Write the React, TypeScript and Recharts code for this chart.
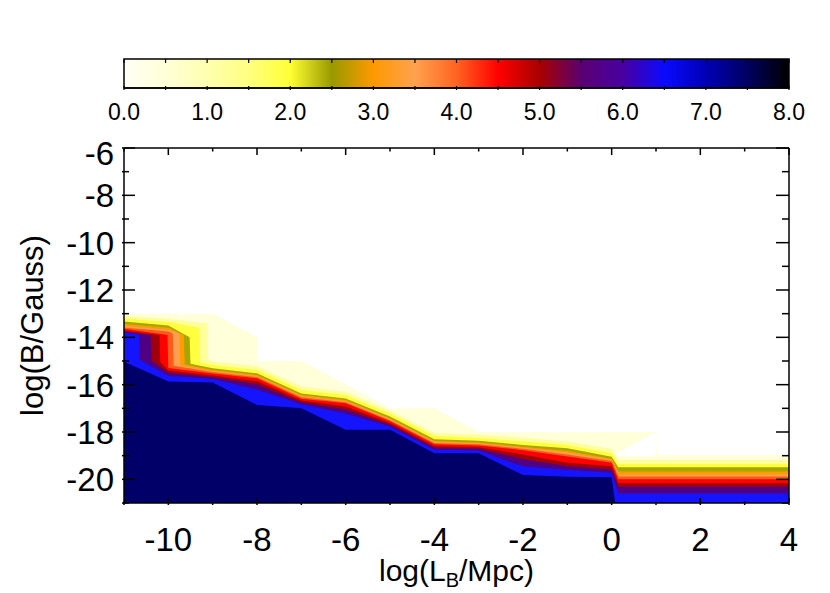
import { ComposedChart, Area, XAxis, YAxis, BarChart, Bar, ReferenceLine } from 'recharts';

const FONT = '"Liberation Sans", Arial, Helvetica, sans-serif';

// plot frame (page pixels), set by the chart margins below
const PLOT_TOP = 148;
const PLOT_RIGHT = 789;
const CB_TOP = 59;

// axes: log(L_B/Mpc) and log(B/Gauss)
const xTicks = [-11, -10, -9, -8, -7, -6, -5, -4, -3, -2, -1, 0, 1, 2, 3, 4];
const xLabels = [-10, -8, -6, -4, -2, 0, 2, 4];
const yTicks = [-21, -20, -19, -18, -17, -16, -15, -14, -13, -12, -11, -10, -9, -8, -7, -6];
const yLabels = [-20, -18, -16, -14, -12, -10, -8, -6];

// colour bar
const cbTicks = [0, 0.5, 1, 1.5, 2, 2.5, 3, 3.5, 4, 4.5, 5, 5.5, 6, 6.5, 7, 7.5, 8];
const cbLabels = [0, 1, 2, 3, 4, 5, 6, 7, 8];
const cbMax = 8;
const cbStops: [number, string][] = [
  [0, '#FFFFF6'], [0.5, '#FFFFD8'], [1, '#FFFFB0'], [1.5, '#FFFF80'], [2, '#FFFF33'],
  [2.5, '#999900'], [3, '#FF9900'], [3.5, '#FFA24F'], [4, '#FF6422'], [4.5, '#FF0000'],
  [5, '#A80000'], [5.5, '#5A0072'], [6, '#4800A0'], [6.5, '#0A0AFF'], [7, '#0000B4'],
  [7.5, '#000060'], [8, '#000000'],
];

// contour edges: top of the region where the value reaches each level, [logL, logB]
const lvlPale: [number, number][] = [
  [-11, -13.0], [-9, -13.0], [-8, -14.0], [-7.98, -15.0], [-7, -15.0], [-5, -17.0],
  [-4, -17.0], [-3, -18.0], [1, -18.0], [1.02, -18.97], [4, -18.97],
];
const lvlLightYellow: [number, number][] = [
  [-11, -13.1], [-10, -13.22], [-9.12, -13.4], [-9.1, -14.95], [-9, -15.02], [-8, -15.22],
  [-7, -16.08], [-6, -16.3], [-5, -17.1], [-4, -18.04], [-3, -18.12], [-2, -18.24],
  [-1, -18.4], [0, -18.72], [0.15, -19.18], [4, -19.18],
];
const lvlYellow: [number, number][] = [
  [-11, -13.2], [-10, -13.35], [-9.3, -13.6], [-9.28, -15.05], [-9, -15.17], [-8, -15.38],
  [-7, -16.23], [-6, -16.45], [-5, -17.22], [-4, -18.17], [-3, -18.25], [-2, -18.4],
  [-1, -18.55], [0, -18.9], [0.15, -19.35], [4, -19.35],
];
const lvlOlive: [number, number][] = [
  [-11, -13.33], [-10, -13.5], [-9.52, -14.0], [-9.5, -15.12], [-9, -15.31], [-8, -15.52],
  [-7, -16.37], [-6, -16.58], [-5, -17.35], [-4, -18.31], [-3, -18.37], [-2, -18.55],
  [-1, -18.69], [0, -19.05], [0.15, -19.49], [4, -19.49],
];
const lvlOrange: [number, number][] = [
  [-11, -13.44], [-10, -13.6], [-9.65, -13.9], [-9.63, -15.15], [-9, -15.38], [-8, -15.59],
  [-7, -16.44], [-6, -16.65], [-5, -17.42], [-4, -18.38], [-3, -18.44], [-2, -18.62],
  [-1, -18.8], [0, -19.13], [0.15, -19.67], [4, -19.67],
];
const lvlLightOrange: [number, number][] = [
  [-11, -13.52], [-10, -13.68], [-9.75, -13.85], [-9.73, -15.18], [-9, -15.43], [-8, -15.64],
  [-7, -16.49], [-6, -16.7], [-5, -17.46], [-4, -18.42], [-3, -18.48], [-2, -18.67],
  [-1, -18.87], [0, -19.18], [0.15, -19.8], [4, -19.8],
];
const lvlOrangeRed: [number, number][] = [
  [-11, -13.58], [-10, -13.75], [-9.9, -13.85], [-9.88, -15.2], [-9, -15.47], [-8, -15.68],
  [-7, -16.53], [-6, -16.74], [-5, -17.5], [-4, -18.46], [-3, -18.52], [-2, -18.71],
  [-1, -18.95], [0, -19.23], [0.15, -19.88], [4, -19.88],
];
const lvlRed: [number, number][] = [
  [-11, -13.64], [-10.02, -13.9], [-10, -15.3], [-9, -15.53], [-8, -15.73], [-7, -16.59],
  [-6, -16.79], [-5, -17.55], [-4, -18.52], [-3, -18.57], [-2, -18.77], [-1, -19.03],
  [0, -19.3], [0.15, -20.0], [4, -20.0],
];
const lvlDarkRed: [number, number][] = [
  [-11, -13.72], [-10.2, -13.9], [-10.18, -15.05], [-10, -15.4], [-9, -15.61], [-8, -15.86],
  [-7, -16.67], [-6, -16.92], [-5, -17.63], [-4, -18.6], [-3, -18.64], [-2, -18.95],
  [-1, -19.3], [0, -19.45], [0.15, -20.17], [4, -20.17],
];
const lvlPurple: [number, number][] = [
  [-11, -13.75], [-10.4, -13.9], [-10.38, -14.98], [-10, -15.5], [-9, -15.68], [-8, -15.98],
  [-7, -16.74], [-6, -17.05], [-5, -17.69], [-4, -18.66], [-3, -18.7], [-2, -19.15],
  [-1, -19.45], [0, -19.58], [0.15, -20.31], [4, -20.31],
];
const lvlBlue: [number, number][] = [
  [-11, -13.78], [-10.66, -13.88], [-10.64, -14.95], [-10, -15.62], [-9, -15.76], [-8, -16.2],
  [-7, -16.83], [-6, -17.22], [-5, -17.77], [-4, -18.75], [-3, -18.78], [-2, -19.45],
  [-1, -19.6], [0, -19.72], [0.15, -20.6], [4, -20.6],
];
const lvlNavy: [number, number][] = [
  [-11, -15.03], [-10, -15.87], [-9, -15.91], [-8, -16.86], [-7, -17.0], [-6, -17.91],
  [-5, -17.91], [-4, -18.9], [-3, -18.9], [-2, -19.82], [-1, -19.89], [0, -19.91], [0.08, -21],
];
// white notch cut into the pale band between 0 and 1: [logL, low, high]
const whiteNotch: [number, number, number][] = [[0, -19, -19], [1, -19, -18]];

const levels = [
  { key: 'pale', pts: lvlPale, color: '#FFFFDA' },
  { key: 'lyel', pts: lvlLightYellow, color: '#FFFF9C' },
  { key: 'yel', pts: lvlYellow, color: '#FFFF40' },
  { key: 'olv', pts: lvlOlive, color: '#A6A600' },
  { key: 'org', pts: lvlOrange, color: '#FF9C00' },
  { key: 'lorg', pts: lvlLightOrange, color: '#FFA050' },
  { key: 'ored', pts: lvlOrangeRed, color: '#FF5A1A' },
  { key: 'red', pts: lvlRed, color: '#FF0000' },
  { key: 'dred', pts: lvlDarkRed, color: '#A0000A' },
  { key: 'pur', pts: lvlPurple, color: '#500082' },
  { key: 'blu', pts: lvlBlue, color: '#1414FF' },
  { key: 'nav', pts: lvlNavy, color: '#000068' },
];

const allX = new Set<number>();
levels.forEach(l => l.pts.forEach(p => allX.add(p[0])));
whiteNotch.forEach(p => allX.add(p[0]));
const rows = Array.from(allX).sort((a, b) => a - b).map(x => {
  const r: any = { x };
  levels.forEach(l => {
    const p = l.pts.find(q => q[0] === x);
    r[l.key] = p ? p[1] : null;
  });
  const n = whiteNotch.find(q => q[0] === x);
  r.notch = n ? [n[1], n[2]] : null;
  return r;
});

const cbData = [{ name: 'bar', v: cbMax }];

const txt = { fontFamily: FONT, fill: '#000' };

// bottom axis tick also draws its mirror on the top edge of the frame
function XTick({ x, y, payload }: any) {
  const v = payload.value;
  const major = xLabels.includes(v);
  const len = major ? 7 : 3.5;
  return (
    <g>
      <line x1={x} x2={x} y1={y} y2={y - len} stroke="#000" strokeWidth={1.5} />
      <line x1={x} x2={x} y1={PLOT_TOP} y2={PLOT_TOP + len} stroke="#000" strokeWidth={1.5} />
      {major && <text x={x} y={y + 46} textAnchor="middle" fontSize={33} {...txt}>{v}</text>}
    </g>
  );
}

// left axis tick also draws its mirror on the right edge
function YTick({ x, y, payload }: any) {
  const v = payload.value;
  const major = yLabels.includes(v);
  const len = major ? 13 : 7;
  return (
    <g>
      <line x1={x} x2={x + len} y1={y} y2={y} stroke="#000" strokeWidth={1.5} />
      <line x1={PLOT_RIGHT} x2={PLOT_RIGHT - len} y1={y} y2={y} stroke="#000" strokeWidth={1.5} />
      {major && (
        <text x={x - 8} y={y + 12 + (v === -6 ? 5 : 0)} textAnchor="end" fontSize={33} {...txt}>{v}</text>
      )}
    </g>
  );
}

function CbTick({ x, y, payload }: any) {
  const v = payload.value;
  return (
    <g>
      <line x1={x} x2={x} y1={y} y2={y - 4} stroke="#000" strokeWidth={1.2} />
      <line x1={x} x2={x} y1={CB_TOP} y2={CB_TOP + 4} stroke="#000" strokeWidth={1.2} />
      {cbLabels.includes(v) && (
        <text x={x} y={y + 30} textAnchor="middle" fontSize={23} {...txt}>{v.toFixed(1)}</text>
      )}
    </g>
  );
}

function XTitle({ viewBox }: any) {
  const cx = viewBox.x + viewBox.width / 2;
  return (
    <text x={cx} y={viewBox.y + 78} textAnchor="middle" fontSize={30} {...txt}>
      log(L<tspan dy={6} fontSize={20}>B</tspan><tspan dy={-6}>/Mpc)</tspan>
    </text>
  );
}

function YTitle({ viewBox }: any) {
  const cy = viewBox.y + viewBox.height / 2;
  const cx = 43;
  return (
    <text x={cx} y={cy} textAnchor="middle" fontSize={31} transform={`rotate(-90 ${cx} ${cy})`} {...txt}>
      log(B/Gauss)
    </text>
  );
}

const axisLine = { stroke: '#000', strokeWidth: 1.5 };

export default function App() {
  return (
    <div style={{ position: 'absolute', left: 0, top: 0, width: 830, height: 593, background: '#fff' }}>
      <div style={{ position: 'absolute', left: 0, top: 0 }}>
        <BarChart width={830} height={130} data={cbData} layout="vertical" barCategoryGap={0}
          margin={{ top: CB_TOP, right: 41, left: 124, bottom: 0 }}>
          <defs>
            <linearGradient id="cbar" x1="0" y1="0" x2="1" y2="0">
              {cbStops.map(([v, c]) => <stop key={v} offset={`${(v / cbMax) * 100}%`} stopColor={c} />)}
            </linearGradient>
          </defs>
          <YAxis type="category" dataKey="name" hide />
          <Bar dataKey="v" fill="url(#cbar)" stroke="#000" strokeWidth={1.5} isAnimationActive={false} />
          <XAxis type="number" domain={[0, cbMax]} ticks={cbTicks} interval={0} height={42}
            tickSize={0} tickLine={false} axisLine={axisLine} tick={<CbTick />} />
        </BarChart>
      </div>
      <div style={{ position: 'absolute', left: 0, top: 0 }}>
        <ComposedChart width={830} height={593} data={rows} margin={{ top: PLOT_TOP, right: 830 - PLOT_RIGHT, left: 0, bottom: 0 }}>
          {levels.slice(0, 1).map(l => (
            <Area key={l.key} type="linear" dataKey={l.key} baseValue={-21} stroke="none" fill={l.color}
              fillOpacity={1} connectNulls isAnimationActive={false} dot={false} activeDot={false} />
          ))}
          <Area type="linear" dataKey="notch" stroke="none" fill="#FFFFFF" fillOpacity={1}
            connectNulls isAnimationActive={false} dot={false} activeDot={false} />
          {levels.slice(1).map(l => (
            <Area key={l.key} type="linear" dataKey={l.key} baseValue={-21} stroke="none" fill={l.color}
              fillOpacity={1} connectNulls isAnimationActive={false} dot={false} activeDot={false} />
          ))}
          <ReferenceLine y={-6} stroke="#000" strokeWidth={1.5} />
          <ReferenceLine x={4} stroke="#000" strokeWidth={1.5} />
          <XAxis dataKey="x" type="number" domain={[-11, 4]} ticks={xTicks} interval={0} height={90}
            allowDataOverflow tickSize={0} tickLine={false} axisLine={axisLine} tick={<XTick />}
            label={{ content: <XTitle /> }} />
          <YAxis type="number" domain={[-21, -6]} ticks={yTicks} interval={0} width={124} allowDataOverflow
            tickSize={0} tickLine={false} axisLine={axisLine} tick={<YTick />}
            label={{ content: <YTitle /> }} />
        </ComposedChart>
      </div>
    </div>
  );
}
